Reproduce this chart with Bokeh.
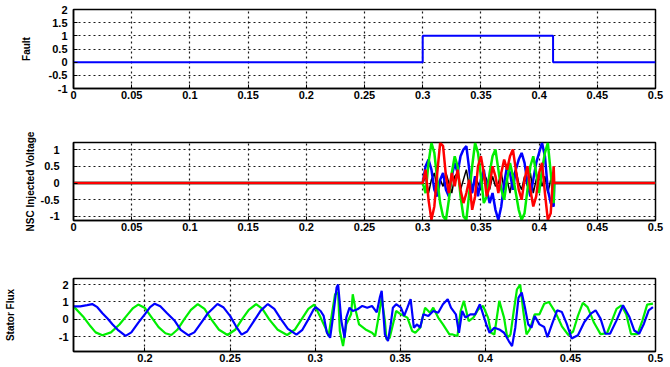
from bokeh.plotting import figure
from bokeh.layouts import column
from bokeh.models import Range1d, FixedTicker
from bokeh.embed import file_html
from bokeh.resources import INLINE

# ---------------- data ----------------
x_ticks = [0, 0.05, 0.1, 0.15, 0.2, 0.25, 0.3, 0.35, 0.4, 0.45, 0.5]
x_labels = ["0", "0.05", "0.1", "0.15", "0.2", "0.25", "0.3", "0.35", "0.4", "0.45", "0.5"]

fault_t = [0.0, 0.3, 0.3, 0.412, 0.412, 0.5]
fault_v = [0, 0, 1, 1, 0, 0]
fault_yticks = [-1, -0.5, 0, 0.5, 1, 1.5, 2]
fault_ylabels = ["-1", "-0.5", "0", "0.5", "1", "1.5", "2"]

nsc_t = [0.0, 0.3000, 0.3025, 0.3050, 0.3075, 0.3100, 0.3125, 0.3150, 0.3175, 0.3200, 0.3225,
         0.3250, 0.3275, 0.3300, 0.3325, 0.3350, 0.3375, 0.3400, 0.3425, 0.3450, 0.3475,
         0.3500, 0.3525, 0.3550, 0.3575, 0.3600, 0.3625, 0.3650, 0.3675, 0.3700, 0.3725,
         0.3750, 0.3775, 0.3800, 0.3825, 0.3850, 0.3875, 0.3900, 0.3925, 0.3950, 0.3975,
         0.4000, 0.4025, 0.4050, 0.4075, 0.4100, 0.4125, 0.413, 0.5]
nsc_red = [0, 0.0, 0.4, -0.5, -1.1, -0.7, 0.3, 1.2, 1.1, 0.2, -0.3,
           0.3, -0.1, 0.4, -0.2, -0.6, -0.3, 0.1, -0.8, -0.4, 0.5,
           0.8, 0.3, -0.4, -0.1, 0.5, 0.2, -0.3, 0.3, 0.7, 0.4,
           0.8, 1.0, 0.4, -0.2, -0.5, 0.1, 0.5, -0.2, -0.7, -0.4,
           0.3, 0.6, -0.3, -1.1, -0.9, 0.5, 0, 0]
nsc_blue = [0, 0.0, 0.5, 0.7, 0.4, -0.2, -0.4, 0.1, 0.3, -0.2, -0.4,
            0.2, 0.6, 0.3, 0.8, 1.0, 1.1, 0.4, -0.3, 0.2, -0.4,
            0.1, 0.4, -0.2, -0.6, -0.3, -0.8, -1.1, -0.7, 0.0, 0.5,
            0.3, -0.2, 0.4, 0.7, 0.9, 0.6, 0.0, -0.4, 0.1, 0.6,
            0.9, 1.2, 0.8, -0.2, -0.6, -0.7, 0, 0]
nsc_green = [0, 0.0, -0.3, 0.6, 1.2, 0.9, 0.1, -0.6, -1.0, -1.1, -0.5,
             0.3, 0.8, 0.5, -0.4, -1.0, -1.1, -0.3, 0.5, 1.2, 0.9,
             0.2, -0.6, -0.4, 0.3, 0.8, 1.0, 0.4, -0.2, -0.5, 0.1,
             0.6, 0.2, -0.3, -0.8, -1.1, -0.9, -0.2, 0.5, 0.8, 0.3,
             -0.3, 0.4, 0.9, 1.2, 0.3, -0.6, 0, 0]
nsc_black = [0, 0.0, 0.2, -0.3, 0.1, 0.3, -0.2, 0.1, -0.1, 0.3, 0.0,
             -0.3, 0.2, 0.3, -0.2, 0.1, 0.4, -0.1, -0.3, 0.2, 0.0,
             -0.2, 0.3, 0.1, -0.2, 0.2, -0.1, 0.0, 0.3, -0.2, 0.1,
             -0.3, 0.2, 0.4, 0.0, -0.2, 0.2, -0.1, 0.3, -0.3, 0.1,
             0.3, -0.1, 0.2, -0.3, 0.1, 0.0, 0, 0]
nsc_yticks = [-1, -0.5, 0, 0.5, 1]
nsc_ylabels = ["-1", "-0.5", "0", "0.5", "1"]

flux_blue_t = [0.158, 0.162, 0.166, 0.169, 0.172, 0.175, 0.178, 0.181, 0.184, 0.1886, 0.192, 0.196,
               0.200, 0.203, 0.2057, 0.209, 0.213, 0.2176, 0.221, 0.2256, 0.229, 0.233, 0.237,
               0.2426, 0.246, 0.250, 0.2535, 0.2568, 0.260, 0.264, 0.268, 0.2722, 0.276, 0.280,
               0.284, 0.289, 0.2925, 0.296, 0.299, 0.3003,
               0.3032, 0.3050, 0.3069, 0.3088, 0.3107, 0.3126, 0.3135, 0.3154, 0.3173, 0.3183,
               0.3202, 0.3221, 0.3249, 0.3277, 0.3306, 0.3334, 0.3362, 0.3381, 0.3391, 0.3410,
               0.3428, 0.3444, 0.3457, 0.3476, 0.3504, 0.3523, 0.3542, 0.3561, 0.3580, 0.3599,
               0.3617, 0.3636, 0.3665,
               0.3694, 0.3723, 0.3751, 0.3779, 0.3798, 0.3827, 0.3845, 0.3864, 0.3883, 0.3912,
               0.3940, 0.3968, 0.3987, 0.4006, 0.4025, 0.4053, 0.4082, 0.4110, 0.4138, 0.4157,
               0.4176, 0.4195, 0.4214, 0.4233, 0.4252, 0.4271, 0.4290, 0.4318,
               0.4346, 0.4365, 0.4393, 0.4422, 0.4450, 0.4478, 0.4507, 0.4544, 0.4582, 0.4620,
               0.4648, 0.4677, 0.4705, 0.4733, 0.4771, 0.4809, 0.4847, 0.4875, 0.4904, 0.4932,
               0.4960, 0.4985]
flux_blue = [0.75, 0.75, 0.82, 0.88, 0.7, 0.35, 0.05, -0.3, -0.6, -0.95, -0.75, -0.2,
             0.3, 0.7, 0.9, 0.75, 0.35, -0.1, -0.6, -0.92, -0.75, -0.2, 0.35,
             0.88, 0.7, 0.2, -0.4, -0.88, -0.7, -0.1, 0.5, 0.88, 0.6, 0.0,
             -0.55, -0.88, -0.6, 0.0, 0.55, 0.7,
             0.48, 0.2, -0.77, -1.06, 0.29, 1.83, 2.0, -0.1, -1.06, 0.1,
             0.67, 0.48, 0.58, 0.77, 0.67, 0.77, 0.4, 1.3, 1.64, -0.87,
             -1.25, -0.29, 0.67, 0.87, 0.67, 0.2, 0.67, 1.16, -0.48, -0.29,
             -0.48, 0.29, 0.19,
             0.48, 0.38, 0.87, 1.16, 0.67, 0.29, -0.77, 0.48, 0.1, 0.29,
             0.29, 0.87, 0.29, -0.29, -0.77, -0.48, -0.58, -0.77, -1.25, -1.54,
             -0.48, 1.25, 1.54, 0.67, -0.29, -0.48, 0.19, -0.29,
             -0.44, -1.02, -0.25, 0.52, 0.42, -0.25, -1.1, -0.92, -0.15, 0.33,
             0.52, 0.04, -0.83, -0.83, -0.06, 0.81, 0.13, -0.64, -0.83, -0.25,
             0.52, 0.7]

flux_green_t = [0.158, 0.1636, 0.168, 0.171, 0.175, 0.180, 0.185, 0.190, 0.193, 0.196, 0.200,
                0.204, 0.208, 0.212, 0.2155, 0.219, 0.223, 0.227, 0.231, 0.235, 0.239, 0.2435,
                0.2485, 0.253, 0.257, 0.261, 0.2653, 0.269, 0.273, 0.278, 0.2835, 0.288, 0.292,
                0.296, 0.2994,
                0.3032, 0.3060, 0.3079, 0.3098, 0.3117, 0.3135, 0.3145, 0.3164, 0.3183, 0.3211,
                0.3221, 0.3239, 0.3258, 0.3296, 0.3334, 0.3353, 0.3372, 0.3391, 0.3410, 0.3419,
                0.3438, 0.3457, 0.3476, 0.3504, 0.3542, 0.3570, 0.3589, 0.3617, 0.3646,
                0.3675, 0.3694, 0.3723, 0.3751, 0.3789, 0.3808, 0.3836, 0.3855, 0.3874, 0.3902,
                0.3930, 0.3959, 0.3987, 0.4016, 0.4034, 0.4053, 0.4082, 0.4110, 0.4129, 0.4148,
                0.4167, 0.4186, 0.4205, 0.4223, 0.4242, 0.4261, 0.4290, 0.4318,
                0.4346, 0.4374, 0.4412, 0.4450, 0.4488, 0.4516, 0.4544, 0.4573, 0.4601, 0.4639,
                0.4677, 0.4715, 0.4743, 0.4771, 0.4800, 0.4828, 0.4856, 0.4894, 0.4922, 0.4951,
                0.4985]
flux_green = [0.75, 0.17, -0.4, -0.75, -0.92, -0.75, -0.3, 0.3, 0.65, 0.85, 0.65,
              0.1, -0.45, -0.8, -0.9, -0.6, 0.0, 0.55, 0.88, 0.6, 0.0, -0.6,
              -0.9, -0.6, 0.0, 0.55, 0.87, 0.6, 0.0, -0.6, -0.9, -0.6, 0.0,
              0.6, 0.85,
              0.1, -0.48, -0.96, 0.29, 1.44, 1.54, -0.67, -1.54, -0.29, 0.29,
              1.44, 0.48, -0.29, -0.58, -0.77, -0.96, 0.1, 1.25, -0.1, -1.16,
              -1.06, -0.29, 0.48, 0.29, 0.1, -0.67, -0.77, -0.48, 0.67,
              0.38, 0.67, 0.1, -0.29, -0.87, -0.87, -0.96, 0.48, 1.06, -0.1,
              0.1, 0.58, 0.77, 0.1, -0.77, -0.87, 1.06, 0.1, -1.06, -0.87,
              0.48, 1.73, 2.0, 0.48, -0.87, -0.58, 0.29, 0.29,
              0.9, 1.0, 0.4, -0.4, -0.9, -0.7, 0.2, 0.95, 0.7, -0.2,
              -0.85, -0.8, -0.1, 0.6, 0.8, 0.3, -0.85, -0.85, -0.1, 0.85,
              0.9]
flux_xticks = [0.2, 0.25, 0.3, 0.35, 0.4, 0.45, 0.5]
flux_xlabels = ["0.2", "0.25", "0.3", "0.35", "0.4", "0.45", "0.5"]
flux_yticks = [-1, 0, 1, 2]
flux_ylabels = ["-1", "0", "1", "2"]

FONT = "Liberation Sans"
W = 668


def make_fig(height, x0, x1, y0, y1, left, right, top, bottom):
    p = figure(width=W, height=height, output_backend="svg", toolbar_location=None,
               x_range=Range1d(x0, x1), y_range=Range1d(y0, y1),
               min_border_left=left, min_border_right=right,
               min_border_top=top, min_border_bottom=bottom)
    p.outline_line_color = "black"
    p.outline_line_width = 1.5
    p.outline_line_alpha = 1
    p.background_fill_color = "white"
    p.border_fill_color = "white"
    for g in (p.xgrid[0], p.ygrid[0]):
        g.grid_line_color = "black"
        g.grid_line_dash = "2 3"
        g.grid_line_width = 1.2
        g.grid_line_alpha = 0.9
    for ax in (p.xaxis[0], p.yaxis[0]):
        ax.axis_line_color = "black"
        ax.axis_line_width = 1.5
        ax.major_tick_in = 4
        ax.major_tick_out = 0
        ax.minor_tick_line_color = None
        ax.major_label_text_font = FONT
        ax.major_label_text_font_style = "bold"
        ax.major_label_text_font_size = "11px"
        ax.major_label_text_color = "black"
        ax.axis_label_text_font = FONT
        ax.axis_label_text_font_style = "bold"
        ax.axis_label_text_font_size = "10px"
        ax.axis_label_text_color = "black"
    p.xaxis[0].major_label_standoff = 2
    return p


def set_ticks(axis, ticks, labels):
    axis.ticker = FixedTicker(ticks=ticks)
    axis.major_label_overrides = {t: l for t, l in zip(ticks, labels)}


# ---- Fault ----
p1 = make_fig(115, 0, 0.5, -1, 2, 73, 13, 9, 27)
set_ticks(p1.xaxis[0], x_ticks, x_labels)
set_ticks(p1.yaxis[0], fault_yticks, fault_ylabels)
p1.yaxis[0].axis_label = "Fault"
p1.yaxis[0].major_label_standoff = 6
p1.yaxis[0].axis_label_standoff = 14
p1.line(fault_t, fault_v, color="#0000ff", line_width=2)

# ---- NSC Injected Voltage ----
p2 = make_fig(135, 0, 0.5, -1.12, 1.21, 69, 13, 27, 30)
set_ticks(p2.xaxis[0], x_ticks, x_labels)
set_ticks(p2.yaxis[0], nsc_yticks, nsc_ylabels)
p2.yaxis[0].axis_label = "NSC Injected Voltage"
p2.yaxis[0].major_label_standoff = 14
p2.yaxis[0].axis_label_standoff = 2
p2.line(nsc_t, nsc_black, color="black", line_width=1.5)
p2.line(nsc_t, nsc_blue, color="#0000ff", line_width=2.5)
p2.line(nsc_t, nsc_green, color="#00ee00", line_width=2.5)
p2.line(nsc_t, nsc_red, color="#ff0000", line_width=2.5)

# ---- Stator Flux ----
p3 = make_fig(116, 0.158, 0.5, -1.85, 2.35, 61, 10, 28, 15)
set_ticks(p3.xaxis[0], flux_xticks, flux_xlabels)
set_ticks(p3.yaxis[0], flux_yticks, flux_ylabels)
p3.yaxis[0].axis_label = "Stator Flux"
p3.yaxis[0].major_label_standoff = 5
p3.yaxis[0].axis_label_standoff = 40
p3.line(flux_green_t, flux_green, color="#00ee00", line_width=2.2)
p3.line(flux_blue_t, flux_blue, color="#0000ff", line_width=2.2)

layout = column(p1, p2, p3, spacing=0)

open("out.html", "w").write(file_html(layout, INLINE))
